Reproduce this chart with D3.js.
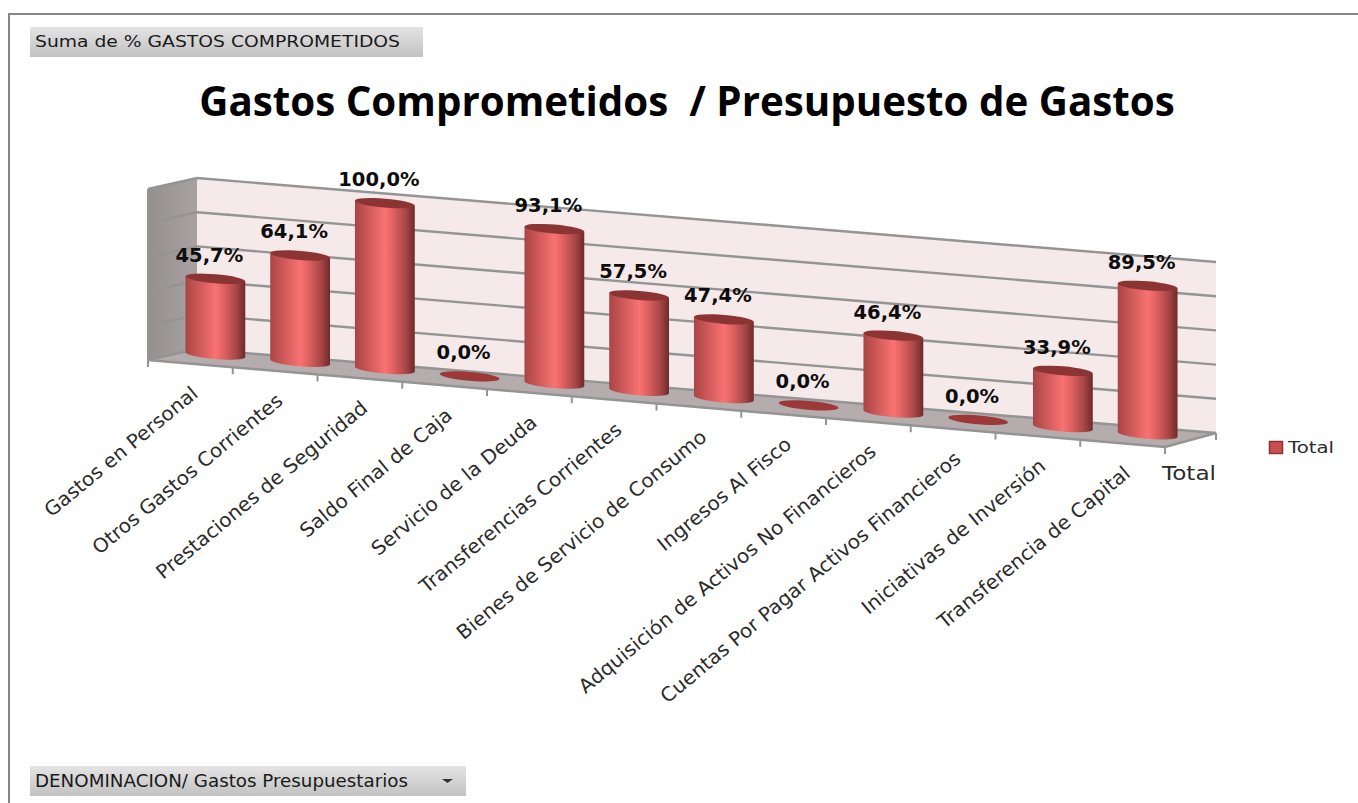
<!DOCTYPE html>
<html><head><meta charset="utf-8">
<script src="https://cdn.jsdelivr.net/npm/d3@7"></script>
<style>html,body{margin:0;padding:0;background:#fff}svg{display:block}</style></head>
<body><svg id="c" width="1358" height="803"></svg>
<script>
const categories = ["Gastos en Personal","Otros Gastos Corrientes","Prestaciones de Seguridad","Saldo Final de Caja","Servicio de la Deuda","Transferencias Corrientes","Bienes de Servicio de Consumo","Ingresos Al Fisco","Adquisición de Activos No Financieros","Cuentas Por Pagar Activos Financieros","Iniciativas de Inversión","Transferencia de Capital"];
const values = [45.7,64.1,100.0,0.0,93.1,57.5,47.4,0.0,46.4,0.0,33.9,89.5];
const valueTicks = [0,20,40,60,80,100];
const titleText = "Gastos Comprometidos  / Presupuesto de Gastos";
const fmt = v => v.toFixed(1).replace(".",",")+"%";

const svg = d3.select("#c");
const FONT = "'DejaVu Sans',Verdana,sans-serif";
const defs = svg.append("defs");
function grad(id, stops, x2=1, y2=0){
  const g = defs.append("linearGradient").attr("id",id).attr("x1",0).attr("y1",0).attr("x2",x2).attr("y2",y2);
  stops.forEach(([o,c])=>g.append("stop").attr("offset",o).attr("stop-color",c));
}
grad("bar",[[0,"#a94545"],[.12,"#bd4f4f"],[.5,"#f97272"],[.62,"#e46464"],[.85,"#a84646"],[1,"#6f2a2a"]]);
grad("btn",[[0,"#e4e4e4"],[1,"#c2c2c2"]],0,1);
grad("wallL",[[0,"#959090"],[1,"#a8a2a2"]]);

// frame
svg.append("path").attr("d","M9,803V14H1358").attr("fill","none").attr("stroke","#868686").attr("stroke-width",2);

// 3D geometry
const frontL=[148,360], frontR=[1165,447], backL=[197,349], backR=[1216,433], wallH=171;
const cat = d3.scaleBand().domain(categories).range([0,1]);
const wall = d3.scaleLinear().domain([0,100]).range([0,wallH]);
const h = d3.scaleLinear().domain([0,100]).range([0,166]);
const front = t => [frontL[0]+(frontR[0]-frontL[0])*t, frontL[1]+(frontR[1]-frontL[1])*t];
const line = d3.line();

const bl=backL, br=backR, fl=front(0), fr=front(1);
svg.append("path").attr("d",line([[bl[0],bl[1]-wallH],[br[0],br[1]-wallH],br,bl])+"Z").attr("fill","#f5e9e9");
svg.append("path").attr("d",line([[fl[0],fl[1]-wallH],[bl[0],bl[1]-wallH],bl,fl])+"Z").attr("fill","url(#wallL)");
svg.append("path").attr("d",line([fl,bl,br,fr])+"Z").attr("fill","#b5adad");
const AX="#949494";
valueTicks.forEach(v=>{
  const d=wall(v);
  svg.append("path").attr("fill","none").attr("stroke",AX).attr("stroke-width",2.4)
    .attr("d",line([[fl[0],fl[1]-d],[bl[0],bl[1]-d],[br[0],br[1]-d]]));
});
svg.append("path").attr("fill","none").attr("stroke",AX).attr("stroke-width",2)
  .attr("d",line([[fl[0],fl[1]-wallH],fl]));
svg.append("path").attr("fill","none").attr("stroke",AX).attr("stroke-width",2.4)
  .attr("d",line([fl,fr,br]));
d3.range(categories.length+1).forEach(i=>{
  const p=front(i/categories.length);
  svg.append("line").attr("x1",p[0]).attr("x2",p[0]).attr("y1",p[1]).attr("y2",p[1]+7).attr("stroke",AX).attr("stroke-width",2);
});
svg.append("line").attr("x1",br[0]).attr("x2",br[0]).attr("y1",br[1]).attr("y2",br[1]+7).attr("stroke",AX).attr("stroke-width",2);

// bars
const slopeDeg = Math.atan2(frontR[1]-frontL[1],frontR[0]-frontL[0])*180/Math.PI;
const rx=30, ry=4.5;
const barG = svg.append("g");
categories.forEach((c,i)=>{
  const t = cat(c)+cat.bandwidth()/2;
  const p = front(t);
  const cx=p[0]+25, cy=p[1]-9, H=h(values[i]);
  const a=slopeDeg*Math.PI/180, dx=rx*Math.cos(a), dy=rx*Math.sin(a);
  if(H>0){
    barG.append("path").attr("fill","url(#bar)")
      .attr("d",`M${cx-dx},${cy-dy-H}L${cx-dx},${cy-dy}A${rx},${ry} ${slopeDeg} 0 0 ${cx+dx},${cy+dy}L${cx+dx},${cy+dy-H}Z`);
  }
  barG.append("ellipse").attr("cx",cx).attr("cy",cy-H).attr("rx",rx).attr("ry",ry)
    .attr("transform",`rotate(${slopeDeg} ${cx} ${cy-H})`).attr("fill",H>0?"#8c3434":"#9c3838");
  svg.append("text").attr("x",cx-6).attr("y",cy-H-24).attr("dy",".36em").attr("text-anchor","middle")
    .attr("font-family",FONT).attr("font-weight","bold").attr("font-size",19.5).attr("fill","#0d0d0d").text(fmt(values[i]));
  svg.append("text").attr("text-anchor","end").attr("font-family",FONT).attr("font-size",19.5).attr("fill","#2b2b2b")
    .attr("transform",`translate(${p[0]+9},${p[1]+32}) rotate(-39.5) scale(1.03,1)`).text(c);
});
svg.append("text").attr("x",1162).attr("y",480).attr("textLength",54).attr("lengthAdjust","spacingAndGlyphs").attr("font-family",FONT).attr("font-size",19).attr("fill","#2b2b2b").text("Total");
svg.append("rect").attr("x",1269.5).attr("y",441.5).attr("width",13).attr("height",12).attr("fill","#c9504f").attr("stroke","#8c3434").attr("stroke-width",1.5);
svg.append("text").attr("x",1288).attr("y",453).attr("textLength",46).attr("lengthAdjust","spacingAndGlyphs").attr("font-family",FONT).attr("font-size",16.5).attr("fill","#2b2b2b").text("Total");
svg.append("text").attr("x",687).attr("y",116).attr("text-anchor","middle").attr("font-family","'Open Sans',sans-serif").attr("font-weight","bold")
  .attr("font-size",40.3).attr("fill","#000").style("white-space","pre").text(titleText);
svg.append("rect").attr("x",30).attr("y",27).attr("width",393).attr("height",30).attr("fill","url(#btn)");
svg.append("text").attr("x",35).attr("y",47).attr("textLength",365).attr("lengthAdjust","spacingAndGlyphs").attr("font-family",FONT).attr("font-size",16.5).attr("fill","#1a1a1a").text("Suma de % GASTOS COMPROMETIDOS");
svg.append("rect").attr("x",30).attr("y",766).attr("width",436).attr("height",30).attr("fill","url(#btn)");
svg.append("text").attr("x",35).attr("y",787).attr("textLength",373).attr("lengthAdjust","spacingAndGlyphs").attr("font-family",FONT).attr("font-size",17).attr("fill","#1a1a1a").text("DENOMINACION/ Gastos Presupuestarios");
svg.append("path").attr("d","M442,779h11l-5.5,4z").attr("fill","#333");
</script></body></html>
